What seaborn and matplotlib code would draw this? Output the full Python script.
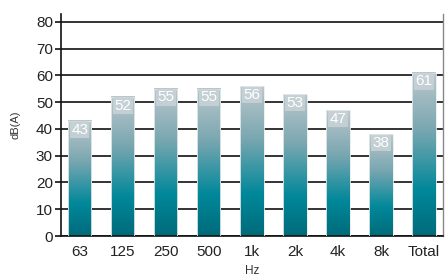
import numpy as np
import pandas as pd
import matplotlib
matplotlib.use("Agg")
import matplotlib.pyplot as plt
import seaborn as sns
from matplotlib.colors import LinearSegmentedColormap

categories = ["63", "125", "250", "500", "1k", "2k", "4k", "8k", "Total"]
values = [43, 52, 55, 55, 56, 53, 47, 38, 61]
yticks = [0, 10, 20, 30, 40, 50, 60, 70, 80]

sns.set_style("white")
plt.rcParams["font.family"] = ["Liberation Sans", "DejaVu Sans"]

df = pd.DataFrame({"band": categories, "level": values})

fig = plt.figure(figsize=(4.47, 2.78), dpi=100)
ax = fig.add_axes([0.137, 0.151, 0.853, 0.799])

sns.barplot(data=df, x="band", y="level", order=categories, width=0.54,
            color="#008696", ax=ax, zorder=3)

cmap = LinearSegmentedColormap.from_list(
    "bar", [(0.0, "#006b7a"), (0.28, "#00889a"), (0.65, "#7aa7b1"), (1.0, "#bcc7cc")])
grad = np.linspace(0, 1, 256).reshape(-1, 1)

for p in ax.patches:
    x0, y0 = p.get_x(), p.get_y()
    w, h = p.get_width(), p.get_height()
    p.set_facecolor("none")
    p.set_edgecolor("#e6ecee")
    p.set_linewidth(0.6)
    ax.imshow(grad, extent=[x0, x0 + w, y0, y0 + h], origin="lower",
              cmap=cmap, aspect="auto", zorder=2.5, interpolation="bilinear")

ax.set_xlim(-0.43, len(categories) - 0.57)
ax.set_ylim(0, 83)

labels = ax.bar_label(ax.containers[0], labels=[str(v) for v in values], padding=0,
                      color="white", fontsize=11,
                      bbox=dict(boxstyle="square,pad=0.08", fc="#c9d3d7", ec="none", alpha=0.85),
                      zorder=5)
for t in labels:
    t.set_va("top")
    t.xyann = (0, -1.2)

ax.set_yticks(yticks)
ax.yaxis.grid(True, color="#111111", linewidth=1.2, zorder=1)
ax.set_axisbelow(True)
for s in ["left", "bottom"]:
    ax.spines[s].set_color("#111111")
    ax.spines[s].set_linewidth(1.2)
ax.spines["top"].set_visible(False)
ax.spines["right"].set_color("#888888")
ax.spines["right"].set_linewidth(1.0)

ax.tick_params(axis="y", left=True, length=4, width=1.2, color="#111111",
               labelsize=11, pad=2, labelcolor="#222222")
ax.tick_params(axis="x", bottom=False, labelsize=11, pad=3, labelcolor="#222222")

ax.set_ylabel("dB(A)", fontsize=8, color="#333333", labelpad=11)
ax.set_xlabel("Hz", fontsize=8.5, color="#333333", labelpad=4)

fig.savefig("out.png", dpi=100)
